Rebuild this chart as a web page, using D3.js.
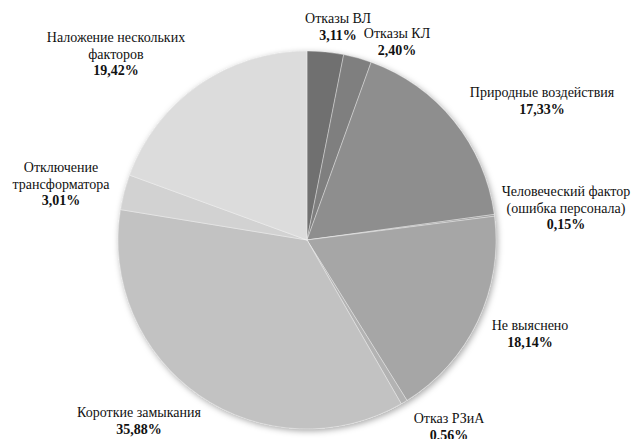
<!DOCTYPE html>
<html>
<head>
<meta charset="utf-8">
<script src="https://cdn.jsdelivr.net/npm/d3@7"></script>
<style>
  html, body { margin: 0; padding: 0; background: #ffffff; }
  svg { display: block; }
</style>
</head>
<body>
<svg id="chart" width="632" height="439"></svg>
<script>
// Causes of outages, share of total (%)
const categories = [
  "Отказы ВЛ",
  "Отказы КЛ",
  "Природные воздействия",
  "Человеческий фактор (ошибка персонала)",
  "Не выяснено",
  "Отказ РЗиА",
  "Короткие замыкания",
  "Отключение трансформатора",
  "Наложение нескольких факторов"
];
const values = [3.11, 2.40, 17.33, 0.15, 18.14, 0.56, 35.88, 3.01, 19.42];
const valueLabels = ["3,11%", "2,40%", "17,33%", "0,15%", "18,14%", "0,56%", "35,88%", "3,01%", "19,42%"];
// Label text broken into lines
const labelLines = [
  ["Отказы ВЛ"],
  ["Отказы КЛ"],
  ["Природные воздействия"],
  ["Человеческий фактор", "(ошибка персонала)"],
  ["Не выяснено"],
  ["Отказ РЗиА"],
  ["Короткие замыкания"],
  ["Отключение", "трансформатора"],
  ["Наложение нескольких", "факторов"]
];
// Label anchor (centre x, first baseline y)
const labelPos = [
  [338, 23], [397, 38], [542, 97], [566, 196], [530, 330],
  [449, 423], [139, 417], [61, 172], [116, 42]
];
const colors = ["#707070", "#7f7f7f", "#8e8e8e", "#9a9a9a", "#a6a6a6",
                "#b3b3b3", "#c2c2c2", "#d2d2d2", "#dcdcdc"];

const svg = d3.select("#chart");
const cx = 307, cy = 240, r = 189;

const defs = svg.append("defs");
const f = defs.append("filter").attr("id", "shadow")
  .attr("x", "-20%").attr("y", "-20%").attr("width", "140%").attr("height", "140%");
f.append("feDropShadow").attr("dx", 1.5).attr("dy", 2).attr("stdDeviation", 3)
  .attr("flood-color", "#000").attr("flood-opacity", 0.35);

const pie = d3.pie().sort(null).value(d => d)(values);
const arc = d3.arc().innerRadius(0).outerRadius(r);

const g = svg.append("g").attr("transform", `translate(${cx},${cy})`);
g.append("circle").attr("r", r).attr("fill", "#ccc").attr("filter", "url(#shadow)");
g.selectAll("path.slice")
  .data(pie)
  .join("path")
  .attr("class", "slice")
  .attr("d", arc)
  .attr("fill", (d, i) => colors[i])
  .attr("stroke", "rgba(255,255,255,0.35)")
  .attr("stroke-width", 1);

const lineH = 16.5;
const labels = svg.append("g")
  .attr("font-family", "'Liberation Serif', Tinos, 'Times New Roman', 'DejaVu Serif', serif")
  .attr("font-size", 14)
  .attr("fill", "#111")
  .attr("text-anchor", "middle");
categories.forEach((c, i) => {
  const [x, y] = labelPos[i];
  const t = labels.append("text").attr("x", x).attr("y", y);
  labelLines[i].forEach((ln, k) => {
    t.append("tspan").attr("x", x).attr("y", y + k * lineH).text(ln);
  });
  t.append("tspan").attr("x", x).attr("y", y + labelLines[i].length * lineH)
    .attr("font-weight", "bold").text(valueLabels[i]);
});
</script>
</body>
</html>
